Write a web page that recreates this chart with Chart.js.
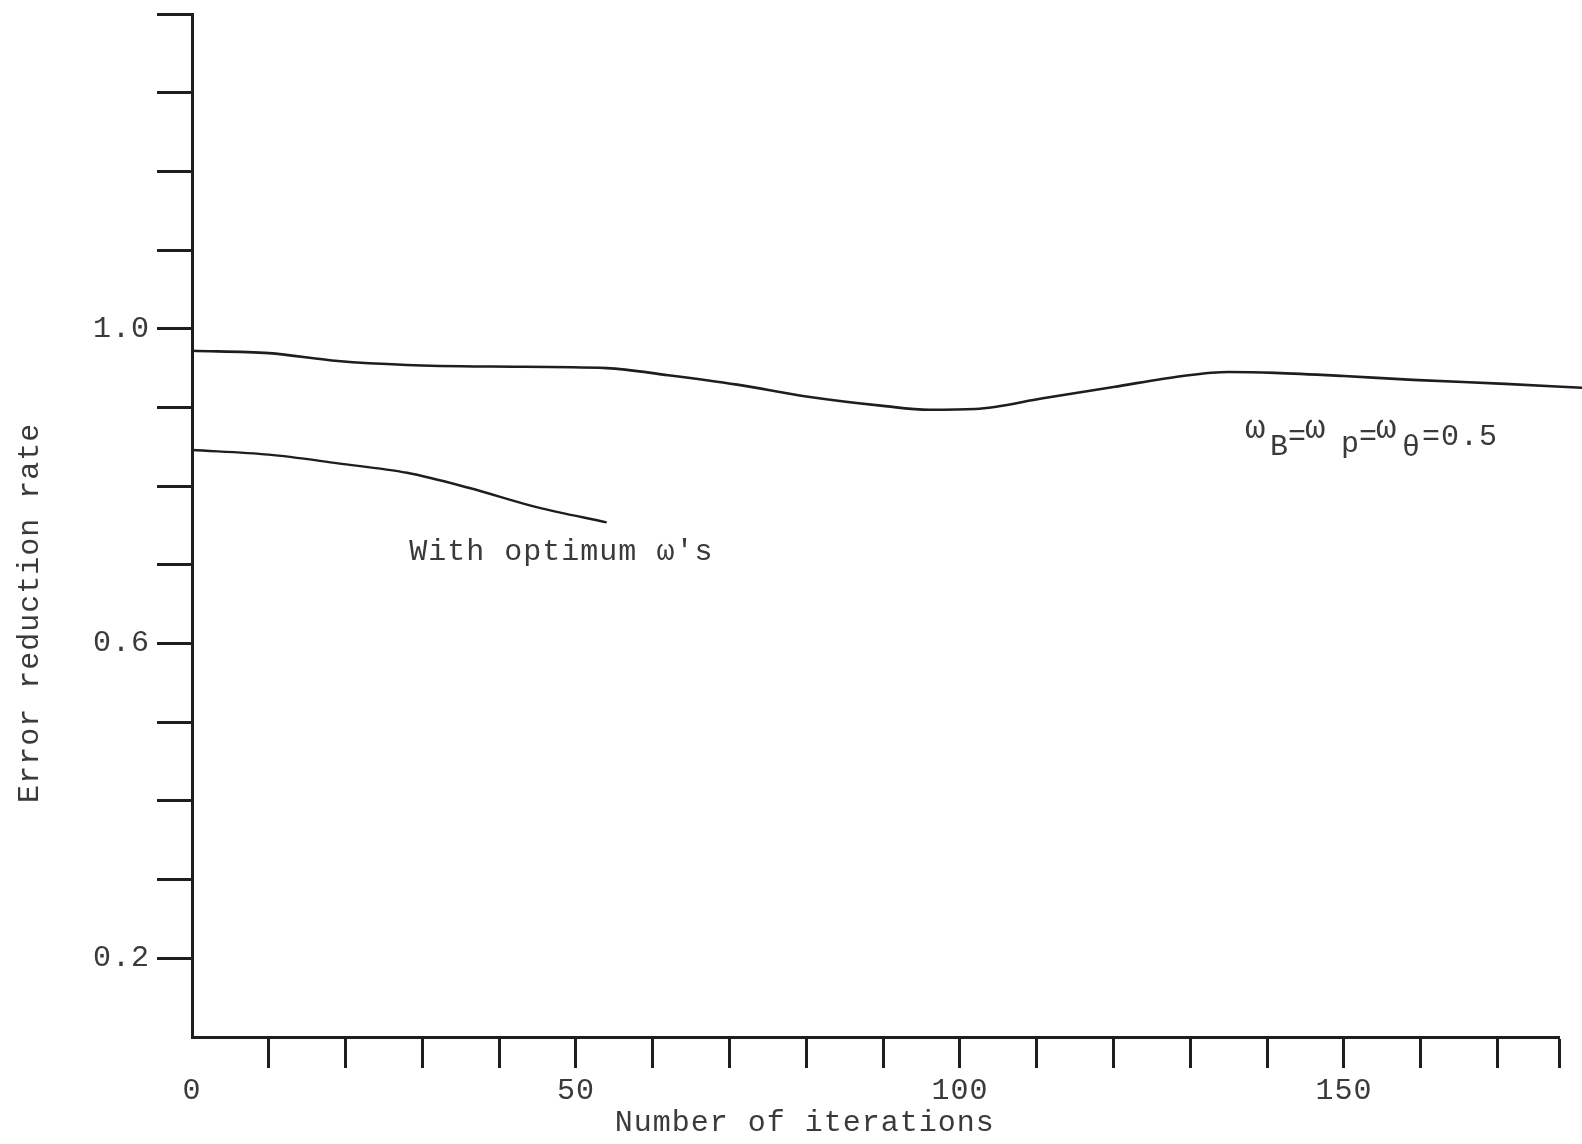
<!DOCTYPE html>
<html>
<head>
<meta charset="utf-8">
<script src="https://cdn.jsdelivr.net/npm/chart.js@4.4.0/dist/chart.umd.min.js"></script>
<style>
  html, body { margin: 0; padding: 0; background: #ffffff; }
  canvas { display: block; }
</style>
</head>
<body>
<canvas id="chart" width="1582" height="1144"></canvas>
<script>
// ---- data ----
const iterUniform = [0, 10, 19, 28, 39, 54, 62, 71, 80, 90, 96, 102, 111, 120, 129, 135, 141, 150, 159, 171, 181];
const rateUniform = [0.972, 0.969, 0.959, 0.954, 0.952, 0.950, 0.941, 0.929, 0.914, 0.902, 0.897, 0.898, 0.912, 0.926, 0.940, 0.945, 0.944, 0.940, 0.935, 0.930, 0.925];

const iterOptimum = [0, 10, 19, 28, 36, 45, 54];
const rateOptimum = [0.846, 0.840, 0.829, 0.817, 0.798, 0.773, 0.754];

const xTickValues = [0, 10, 20, 30, 40, 50, 60, 70, 80, 90, 100, 110, 120, 130, 140, 150, 160, 170];
const xLabelled = [0, 50, 100, 150];
const yTickValues = [0.2, 0.3, 0.4, 0.5, 0.6, 0.7, 0.8, 0.9, 1.0, 1.1, 1.2, 1.3, 1.4];
const yLabelled = [0.2, 0.6, 1.0];

const xAxisMin = 0, xAxisMax = 178;
const yAxisMin = 0.1, yAxisMax = 1.4;

const xTitle = 'Number of iterations';
const yTitle = 'Error reduction rate';
const labelOptimum = "With optimum \u03C9's";

// ---- styling ----
const FONT = '"Liberation Mono", "DejaVu Sans Mono", monospace';
const FONT_SIZE = 30;
const SPACING = '1px';
const TEXT = '#3a3a3a';
const LINE = '#1e1e1e';

const spacingPlugin = {
  id: 'spacing',
  beforeUpdate(chart) { chart.ctx.letterSpacing = SPACING; },
  beforeDraw(chart) { chart.ctx.letterSpacing = SPACING; }
};

const textPlugin = {
  id: 'texts',
  afterDraw(chart) {
    const { ctx, chartArea: a, scales: { x, y } } = chart;
    ctx.save();
    ctx.letterSpacing = SPACING;
    ctx.fillStyle = TEXT;
    ctx.font = FONT_SIZE + 'px ' + FONT;

    // x axis title
    ctx.textAlign = 'center';
    ctx.textBaseline = 'middle';
    ctx.fillText(xTitle, x.getPixelForValue(79.8), a.bottom + 86);

    // y axis title (rotated)
    ctx.save();
    ctx.translate(30, y.getPixelForValue(0.639));
    ctx.rotate(-Math.PI / 2);
    ctx.fillText(yTitle, 0, 0);
    ctx.restore();

    // curve annotation: optimum
    ctx.textAlign = 'left';
    ctx.textBaseline = 'alphabetic';
    ctx.fillText(labelOptimum, x.getPixelForValue(28.3), y.getPixelForValue(0.706));

    // curve annotation: omega_B = omega_p = omega_theta = 0.5
    const ax = x.getPixelForValue(137.1);
    const ay = y.getPixelForValue(0.852);
    const pieces = [
      ['\u03C9', 0, -7, 34], ['B', 25, 10, 30], ['=', 43, 0, 30],
      ['\u03C9', 60, -7, 34], ['p', 96, 7, 30], ['=', 114, 0, 30],
      ['\u03C9', 131, -7, 34], ['\u03B8', 157, 11, 30], ['=0.5', 177, 0, 30]
    ];
    for (const [t, dx, dy, fs] of pieces) {
      ctx.font = fs + 'px ' + FONT;
      ctx.fillText(t, ax + dx, ay + dy);
    }
    ctx.restore();
  }
};

const tickFont = { family: FONT, size: FONT_SIZE };

function zeroPadding(scale) {
  scale.paddingTop = 0;
  scale.paddingBottom = 0;
  scale.paddingLeft = 0;
  scale.paddingRight = 0;
}

new Chart(document.getElementById('chart'), {
  type: 'line',
  data: {
    datasets: [
      {
        label: '\u03C9B=\u03C9p=\u03C9\u03B8=0.5',
        data: iterUniform.map((v, i) => ({ x: v, y: rateUniform[i] })),
        borderColor: LINE,
        borderWidth: 2.6,
        pointRadius: 0,
        cubicInterpolationMode: 'monotone',
        fill: false,
        clip: false
      },
      {
        label: labelOptimum,
        data: iterOptimum.map((v, i) => ({ x: v, y: rateOptimum[i] })),
        borderColor: LINE,
        borderWidth: 2.4,
        pointRadius: 0,
        cubicInterpolationMode: 'monotone',
        fill: false,
        clip: false
      }
    ]
  },
  options: {
    responsive: false,
    animation: false,
    events: [],
    layout: { padding: { left: 0, top: 14, right: 23, bottom: 0 } },
    plugins: {
      legend: { display: false },
      tooltip: { enabled: false },
      title: { display: false }
    },
    scales: {
      x: {
        type: 'linear',
        min: xAxisMin,
        max: xAxisMax,
        afterBuildTicks(scale) {
          scale.ticks = xTickValues.concat([xAxisMax]).map(v => ({ value: v }));
        },
        afterFit(scale) { scale.height = 107; zeroPadding(scale); },
        ticks: {
          autoSkip: false,
          maxRotation: 0,
          padding: 5,
          color: TEXT,
          font: tickFont,
          callback: (v) => xLabelled.includes(v) ? String(v) : ''
        },
        grid: {
          display: true,
          drawOnChartArea: false,
          drawTicks: true,
          tickLength: 31,
          tickWidth: 3,
          tickColor: (c) => (c.tick && c.tick.value === xAxisMin) ? 'rgba(0,0,0,0)' : LINE
        },
        border: { display: true, width: 3, color: LINE }
      },
      y: {
        type: 'linear',
        min: yAxisMin,
        max: yAxisMax,
        afterBuildTicks(scale) {
          scale.ticks = yTickValues.map(v => ({ value: v }));
        },
        afterFit(scale) { scale.width = 192; zeroPadding(scale); },
        ticks: {
          autoSkip: false,
          padding: 7,
          color: TEXT,
          font: tickFont,
          callback: (v) => yLabelled.some(t => Math.abs(t - v) < 1e-9) ? v.toFixed(1) : ''
        },
        grid: {
          display: true,
          drawOnChartArea: false,
          drawTicks: true,
          tickLength: 35,
          tickWidth: 3,
          tickColor: LINE
        },
        border: { display: true, width: 3, color: LINE }
      }
    }
  },
  plugins: [spacingPlugin, textPlugin]
});
</script>
</body>
</html>
